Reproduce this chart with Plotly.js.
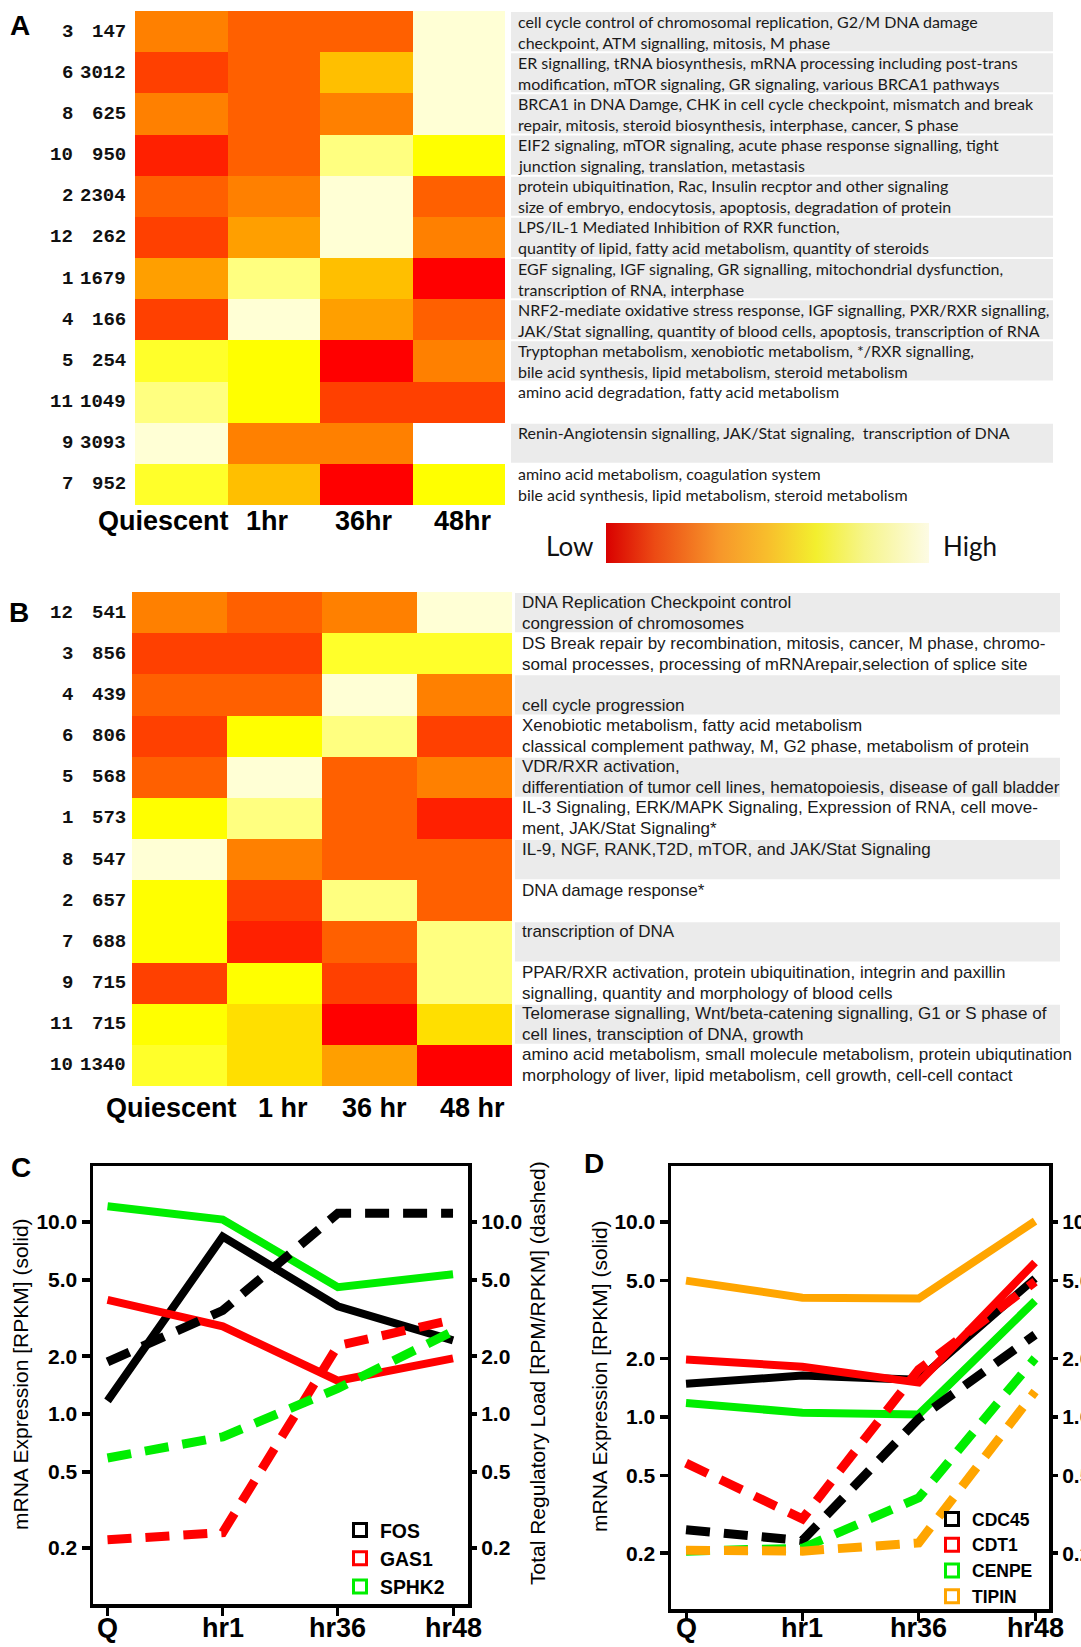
<!DOCTYPE html>
<html><head><meta charset="utf-8">
<script src="https://cdn.plot.ly/plotly-3.0.1.min.js"></script>
<style>html,body{margin:0;padding:0;background:#fff;}#chart{width:1081px;height:1647px;}</style>
</head><body><div id="chart"></div>
<script>
// ---------- DATA ----------
const timeA = ['Quiescent','1hr','36hr','48hr'];
const timeB = ['Quiescent','1 hr','36 hr','48 hr'];
// heat palette levels (R heat.colors(12) + white)
const heatPalette = ['#FF0000','#FF2000','#FF4000','#FF6000','#FF8000','#FF9F00','#FFBF00','#FFDF00','#FFFF00','#FFFF2A','#FFFF80','#FFFFD5','#FFFFFF'];

const clustersA = ['3','6','8','10','2','12','1','4','5','11','9','7'];
const countsA = ['147','3012','625','950','2304','262','1679','166','254','1049','3093','952'];
const levelsA = [[4,3,3,11],[2,3,6,11],[4,3,4,11],[1,3,10,8],[3,4,11,3],[2,5,11,4],[5,10,6,0],[2,11,5,3],[9,8,0,4],[10,8,2,2],[11,4,4,12],[9,6,0,8]];
const textA = [
 ['cell cycle control of chromosomal replication, G2/M DNA damage','checkpoint, ATM signalling, mitosis, M phase'],
 ['ER signalling, tRNA biosynthesis, mRNA processing including post-trans','modification, mTOR signaling, GR signaling, various BRCA1 pathways'],
 ['BRCA1 in DNA Damge, CHK in cell cycle checkpoint, mismatch and break','repair, mitosis, steroid biosynthesis, interphase, cancer, S phase'],
 ['EIF2 signaling, mTOR signaling, acute phase response signalling, tight','junction signaling, translation, metastasis'],
 ['protein ubiquitination, Rac, Insulin recptor and other signaling','size of embryo, endocytosis, apoptosis, degradation of protein'],
 ['LPS/IL-1 Mediated Inhibition of RXR function,','quantity of lipid, fatty acid metabolism, quantity of steroids'],
 ['EGF signaling, IGF signaling, GR signalling, mitochondrial dysfunction,','transcription of RNA, interphase'],
 ['NRF2-mediate oxidative stress response, IGF signalling, PXR/RXR signalling,','JAK/Stat signalling, quantity of blood cells, apoptosis, transcription of RNA'],
 ['Tryptophan metabolism, xenobiotic metabolism, */RXR signalling,','bile acid synthesis, lipid metabolism, steroid metabolism'],
 ['amino acid degradation, fatty acid metabolism',''],
 ['Renin-Angiotensin signalling, JAK/Stat signaling,  transcription of DNA',''],
 ['amino acid metabolism, coagulation system','bile acid synthesis, lipid metabolism, steroid metabolism']
];
const grayA = [1,1,1,1,1,1,1,1,1,0,1,0];

const clustersB = ['12','3','4','6','5','1','8','2','7','9','11','10'];
const countsB = ['541','856','439','806','568','573','547','657','688','715','715','1340'];
const levelsB = [[4,3,4,11],[2,2,9,9],[3,3,11,4],[2,8,10,2],[3,11,3,4],[8,10,3,1],[11,4,3,3],[8,2,10,3],[8,1,3,10],[2,8,2,10],[8,7,0,7],[9,7,5,0]];
const textB = [
 ['DNA Replication Checkpoint control','congression of chromosomes'],
 ['DS Break repair by recombination, mitosis, cancer, M phase, chromo-','somal processes, processing of mRNArepair,selection of splice site'],
 ['','cell cycle progression'],
 ['Xenobiotic metabolism, fatty acid metabolism','classical complement pathway, M, G2 phase, metabolism of protein'],
 ['VDR/RXR activation,','differentiation of tumor cell lines, hematopoiesis, disease of gall bladder'],
 ['IL-3 Signaling, ERK/MAPK Signaling, Expression of RNA, cell move-','ment, JAK/Stat Signaling*'],
 ['IL-9, NGF, RANK,T2D, mTOR, and JAK/Stat Signaling',''],
 ['DNA damage response*',''],
 ['transcription of DNA',''],
 ['PPAR/RXR activation, protein ubiquitination, integrin and paxillin','signalling, quantity and morphology of blood cells'],
 ['Telomerase signalling, Wnt/beta-catening signalling, G1 or S phase of','cell lines, transciption of DNA, growth'],
 ['amino acid metabolism, small molecule metabolism, protein ubiqutination','morphology of liver, lipid metabolism, cell growth, cell-cell contact']
];
const grayB = [1,0,1,0,1,0,1,0,1,0,1,0];

const timeLine = ['Q','hr1','hr36','hr48'];
const yTickVals = [0.2,0.5,1,2,5,10];
const yTickText = ['0.2','0.5','1.0','2.0','5.0','10.0'];

const genesC = ['FOS','GAS1','SPHK2'];
const colorsC = ['#000000','#ff0000','#00ee00'];
const solidC = [[1.17,8.4,3.64,2.42],[3.93,2.86,1.49,1.95],[12.1,10.3,4.58,5.34]];
const dashedC = [[1.87,3.46,11.1,11.1],[0.221,0.241,2.27,3.1],[0.59,0.76,1.36,2.7]];

const genesD = ['CDC45','CDT1','CENPE','TIPIN'];
const colorsD = ['#000000','#ff0000','#00ee00','#ffa500'];
const solidD = [[1.48,1.63,1.55,5.13],[1.97,1.81,1.5,6.2],[1.18,1.05,1.03,3.94],[5.0,4.09,4.05,10.1]];
const dashedD = [[0.264,0.232,0.98,2.64],[0.58,0.30,1.75,4.94],[0.205,0.212,0.385,2.0],[0.207,0.205,0.226,1.35]];

// ---------- LAYOUT HELPERS ----------
const W = 1081, H = 1647;
const px = v => v / W, py = v => 1 - v / H;
const SANS = 'Liberation Sans, Arial, sans-serif';
const MONO = 'Liberation Mono, Courier New, monospace';
const MYR = 'Lato, Open Sans, sans-serif';

const A = {l:135, r:505, t:11, b:505, boxL:511, boxR:1053, textX:516, labY:521, labShift:[-18,-6,-2,4], txtFont:MYR, txtSize:16};
const B = {l:132, r:512, t:592, b:1086, boxL:515, boxR:1060, textX:520, labY:1108, labShift:[-8,8,5,8], txtFont:SANS, txtSize:17};

const nLev = heatPalette.length;
const heatScale = [];
heatPalette.forEach((c,i)=>{ heatScale.push([i/nLev,c]); heatScale.push([(i+1)/nLev,c]); });

const traces = [];
const annotations = [];
const shapes = [];

function heatPanel(P, levels, times, clusters, counts, texts, grays, xa, ya){
  const idx = levels.map((_,i)=>i);
  traces.push({type:'heatmap', x:times, y:idx, z:levels, xaxis:xa, yaxis:ya,
    colorscale:heatScale, zmin:-0.5, zmax:nLev-0.5, showscale:false, hoverinfo:'skip'});
  const rowH = (P.b - P.t) / levels.length;
  idx.forEach(i=>{
    annotations.push({xref:'paper', x:px(75), xanchor:'right', yref:ya, y:i, yanchor:'middle', showarrow:false,
      text:clusters[i], font:{family:MONO, size:19, weight:'bold', color:'#111'}});
    annotations.push({xref:'paper', x:px(128), xanchor:'right', yref:ya, y:i, yanchor:'middle', showarrow:false,
      text:counts[i], font:{family:MONO, size:19, weight:'bold', color:'#111'}});
    if (grays[i]) {
      shapes.push({type:'rect', xref:'paper', yref:'paper', x0:px(P.boxL), x1:px(P.boxR),
        y0:py(P.t + (i+1)*rowH - 1), y1:py(P.t + i*rowH + 1), fillcolor:'#ebebeb', line:{width:0}, layer:'below'});
    }
    texts[i].forEach((t,k)=>{
      if (!t) return;
      annotations.push({xref:'paper', x:px(P.textX), xanchor:'left', yref:ya, y:i, yanchor:'middle',
        yshift: k===0 ? 10.5 : -10.5, showarrow:false, text:t,
        font:{family:P.txtFont, size:P.txtSize, color:'#1a1a1a'}});
    });
  });
  times.forEach((t,j)=>{
    annotations.push({xref:xa, x:t, xanchor:'center', xshift:P.labShift[j], yref:'paper', y:py(P.labY), yanchor:'middle',
      showarrow:false, text:t, font:{family:SANS, size:27, weight:'bold', color:'#000'}});
  });
}

heatPanel(A, levelsA, timeA, clustersA, countsA, textA, grayA, 'x', 'y');
heatPanel(B, levelsB, timeB, clustersB, countsB, textB, grayB, 'x2', 'y2');

// colour bar (Low -> High)
const cbScale = [[0,'#d90000'],[0.15,'#ec4a14'],[0.35,'#f7962a'],[0.5,'#f8be2c'],[0.65,'#f3ef2e'],[0.8,'#f6f58a'],[1,'#fdfbe4']];
traces.push({type:'scatter', x:[timeA[0]], y:[0], xaxis:'x', yaxis:'y', mode:'markers', hoverinfo:'skip', showlegend:false,
  marker:{opacity:0, color:[0], cmin:0, cmax:1, colorscale:cbScale, showscale:true,
    colorbar:{orientation:'h', x:px(767.5), xanchor:'center', y:py(543), yanchor:'middle', len:323, lenmode:'pixels',
      thickness:40, thicknessmode:'pixels', outlinewidth:0, ticks:'', showticklabels:false, xpad:0, ypad:0, borderwidth:0}}});
annotations.push({xref:'paper', yref:'paper', x:px(569), y:py(546), xanchor:'center', yanchor:'middle', showarrow:false, text:'Low', font:{family:MYR, size:26, color:'#111'}});
annotations.push({xref:'paper', yref:'paper', x:px(970), y:py(546), xanchor:'center', yanchor:'middle', showarrow:false, text:'High', font:{family:MYR, size:26, color:'#111'}});

// line panels
function linePanel(genes, colors, solid, dashed, xa, ya, ya2, legendId){
  genes.forEach((g,i)=>{
    traces.push({type:'scatter', mode:'lines', x:timeLine, y:solid[i], xaxis:xa, yaxis:ya, showlegend:false,
      line:{color:colors[i], width:8}, hoverinfo:'skip'});
  });
  genes.forEach((g,i)=>{
    traces.push({type:'scatter', mode:'lines', x:timeLine, y:dashed[i], xaxis:xa, yaxis:ya2, showlegend:false,
      line:{color:colors[i], width:9, dash:'24px,14px'}, hoverinfo:'skip'});
  });
  genes.forEach((g,i)=>{
    traces.push({type:'scatter', mode:'markers', x:[null], y:[null], xaxis:xa, yaxis:ya, name:g, legend:legendId, showlegend:true,
      marker:{symbol:'square-open', size:13, color:colors[i], line:{width:3, color:colors[i]}}});
  });
  // category labels along the bottom axis
  timeLine.forEach(t=>{
    annotations.push({xref:xa, x:t, xanchor:'center', yref:'paper', y:py(1645), yanchor:'bottom', showarrow:false,
      text:t, font:{family:SANS, size:27, weight:'bold', color:'#000'}});
  });
}
linePanel(genesC, colorsC, solidC, dashedC, 'x3', 'y3', 'y4', 'legend');
linePanel(genesD, colorsD, solidD, dashedD, 'x5', 'y5', 'y6', 'legend2');

function xLine(dom, range, anchor){
  return {domain:dom, range:range, type:'category', anchor:anchor, showline:true, mirror:true, linewidth:3.5, linecolor:'#000',
    ticks:'outside', ticklen:8, tickwidth:3, tickcolor:'#000', showgrid:false, zeroline:false, showticklabels:false};
}
function yLine(dom, range, anchor, side, overlay){
  const o = {domain:dom, range:range, type:'log', anchor:anchor, side:side, tickvals:yTickVals, ticktext:yTickText,
    ticks:'outside', ticklen:8, tickwidth:3.5, tickcolor:'#000', showgrid:false, zeroline:false,
    tickfont:{family:SANS, size:21, weight:'bold', color:'#000'}};
  if (overlay) { o.overlaying = overlay; o.showline = false; }
  else { o.showline = true; o.mirror = true; o.linewidth = 3.5; o.linecolor = '#000'; }
  return o;
}

const panelLabel = (t,x,y)=>({xref:'paper', yref:'paper', x:px(x), y:py(y), xanchor:'center', yanchor:'middle', showarrow:false, text:t,
  font:{family:SANS, size:28, weight:'bold', color:'#000'}});
annotations.push(panelLabel('A',20,25));
annotations.push(panelLabel('B',19,612));
annotations.push(panelLabel('C',21,1167));
annotations.push(panelLabel('D',594,1163));

const vTitle = (t,x,y)=>({xref:'paper', yref:'paper', x:px(x), y:py(y), xanchor:'center', yanchor:'middle', showarrow:false, textangle:-90, text:t,
  font:{family:SANS, size:21, color:'#000'}});
annotations.push(vTitle('mRNA Expression [RPKM] (solid)', 20, 1374));
annotations.push(vTitle('Total Regulatory Load [RPM/RPKM] (dashed)', 537, 1373));
annotations.push(vTitle('mRNA Expression [RPKM] (solid)', 599, 1376));

const C = {l:93, r:468, t:1166, b:1604};
const D = {l:671, r:1049, t:1166, b:1609};

const layout = {
  width:W, height:H, margin:{l:0,r:0,t:0,b:0}, paper_bgcolor:'#fff', plot_bgcolor:'rgba(0,0,0,0)',
  xaxis:{domain:[px(A.l),px(A.r)], anchor:'y', range:[-0.5,3.5], showticklabels:false, ticks:'', showgrid:false, zeroline:false, showline:false},
  yaxis:{domain:[py(A.b),py(A.t)], anchor:'x', range:[11.5,-0.5], showticklabels:false, ticks:'', showgrid:false, zeroline:false, showline:false},
  xaxis2:{domain:[px(B.l),px(B.r)], anchor:'y2', range:[-0.5,3.5], showticklabels:false, ticks:'', showgrid:false, zeroline:false, showline:false},
  yaxis2:{domain:[py(B.b),py(B.t)], anchor:'x2', range:[11.5,-0.5], showticklabels:false, ticks:'', showgrid:false, zeroline:false, showline:false},
  xaxis3:xLine([px(C.l),px(C.r)], [-0.126,3.13], 'y3'),
  yaxis3:yLine([py(C.b),py(C.t)], [-0.99,1.292], 'x3', 'left'),
  yaxis4:yLine([py(C.b),py(C.t)], [-0.99,1.292], 'x3', 'right', 'y3'),
  xaxis5:xLine([px(D.l),px(D.r)], [-0.129,3.12], 'y5'),
  yaxis5:yLine([py(D.b),py(D.t)], [-0.985,1.287], 'x5', 'left'),
  yaxis6:yLine([py(D.b),py(D.t)], [-0.985,1.287], 'x5', 'right', 'y5'),
  legend:{x:px(340), xanchor:'left', y:py(1511), yanchor:'top', bgcolor:'rgba(0,0,0,0)', borderwidth:0, tracegroupgap:0,
    font:{family:SANS, size:19.4, weight:'bold', color:'#000'}},
  legend2:{x:px(932), xanchor:'left', y:py(1501), yanchor:'top', bgcolor:'rgba(0,0,0,0)', borderwidth:0, tracegroupgap:0,
    font:{family:SANS, size:17.5, weight:'bold', color:'#000'}},
  annotations:annotations, shapes:shapes, showlegend:true
};

Plotly.newPlot('chart', traces, layout, {displayModeBar:false, staticPlot:true});
</script></body></html>
